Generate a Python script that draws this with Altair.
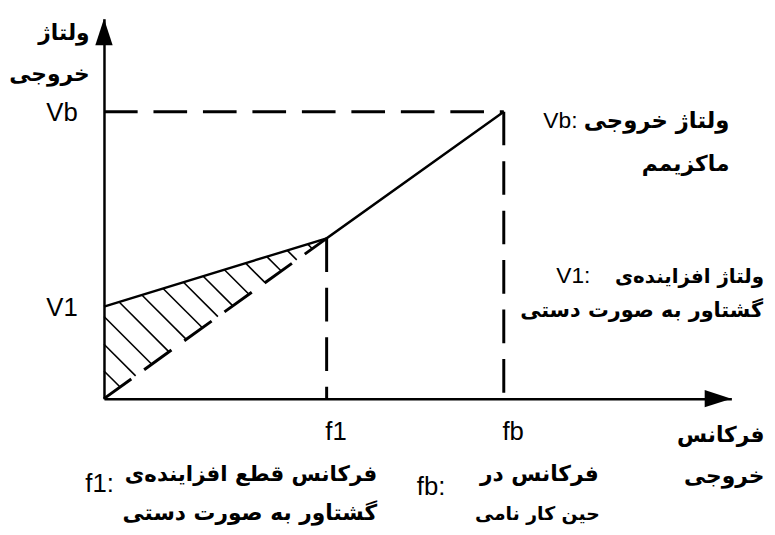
import altair as alt
import pandas as pd

# ---- values (1 unit ~ 1 px of the original) ----
F1 = 225          # f1 position on frequency axis
FB = 404          # fb position
V1 = 93           # boost voltage at f = 0
V_AT_F1 = 162     # voltage at f1
VB = 290          # max output voltage
X_END = 634       # end of frequency axis (arrow tip)
Y_END = 384       # end of voltage axis (arrow tip)

x_tick_values = [F1, FB]
x_tick_labels = ["f1", "fb"]
y_tick_values = [V1, VB]
y_tick_labels = ["V1", "Vb"]

curve_f = [0, F1, FB]
curve_v = [V1, V_AT_F1, VB]

# hatch lines: X + Y = k
hatch_k = [28, 55, 83, 113, 143, 171, 198, 224, 252, 280, 308, 335, 362]

LATIN = "Liberation Sans"
PERSIAN = "DejaVu Sans"

# ---- tables built from the values ----
curve = pd.DataFrame({"f": curve_f, "v": curve_v})

guides = pd.DataFrame({
    "f":  [0,  FB, F1, 0],
    "v":  [VB, VB, V_AT_F1, 0],
    "f2": [FB, FB, F1, F1],
    "v2": [VB, 0,  0,  V_AT_F1],
})

s_up = (V_AT_F1 - V1) / F1
s_lo = V_AT_F1 / F1
rows = []
for k in hatch_k:
    if k <= V1:
        xs, ys = 0.0, float(k)
    else:
        xs = (k - V1) / (1 + s_up)
        ys = V1 + s_up * xs
    xe = k / (1 + s_lo)
    ye = s_lo * xe
    rows.append({"f": xs, "v": ys, "f2": xe, "v2": ye})
hatch = pd.DataFrame(rows)

arrows = pd.DataFrame({
    "f": [X_END, 0],
    "v": [0, Y_END],
    "shape": ["M0,0L-2,-0.65L-2,0.65Z", "M0,0L-0.65,2L0.65,2Z"],
})


def label_expr(values, labels):
    expr = "''"
    for val, lab in zip(values, labels):
        expr = f"datum.value == {val} ? '{lab}' : ({expr})"
    return expr


xscale = alt.Scale(domain=[0, X_END], nice=False, zero=False)
yscale = alt.Scale(domain=[0, Y_END], nice=False, zero=False)

common_axis = dict(
    domain=True, domainColor="black", domainWidth=2.5, ticks=False, tickSize=0,
    grid=False, labelFont=LATIN, labelFontSize=26, labelColor="black",
    labelFlush=False, labelOverlap=False,
    titleFont=PERSIAN, titleFontSize=22, titleFontWeight="bold",
    titleColor="black", titleAngle=0, titleAlign="right",
    titleBaseline="alphabetic", titleLineHeight=42,
)

x_axis = alt.Axis(
    values=x_tick_values, labelExpr=label_expr(x_tick_values, x_tick_labels),
    labelPadding=20, labelOffset=9,
    title=["فرکانس", "خروجی"], titleX=667, titleY=43, **common_axis,
)
y_axis = alt.Axis(
    values=y_tick_values, labelExpr=label_expr(y_tick_values, y_tick_labels),
    labelPadding=27, labelOffset=1,
    title=["ولتاژ", "خروجی"], titleX=-15, titleY=21, **common_axis,
)

X = alt.X("f:Q", scale=xscale, axis=x_axis)
Y = alt.Y("v:Q", scale=yscale, axis=y_axis)

line = alt.Chart(curve).mark_line(color="black", strokeWidth=2.4).encode(x=X, y=Y)

guide_layer = alt.Chart(guides).mark_rule(
    color="black", strokeWidth=3, strokeDash=[34, 16]
).encode(x=X, y=Y, x2="f2:Q", y2="v2:Q")

hatch_layer = alt.Chart(hatch).mark_rule(color="black", strokeWidth=1.6).encode(
    x=X, y=Y, x2="f2:Q", y2="v2:Q"
)

arrow_layer = alt.Chart(arrows).mark_point(
    filled=True, color="black", opacity=1, size=729, strokeWidth=0
).encode(
    x=X, y=Y,
    shape=alt.Shape("shape:N", scale=None, legend=None),
)


def note(text, x, y, font=PERSIAN, size=22, weight="bold", align="right"):
    return alt.Chart(pd.DataFrame({"t": [text]})).mark_text(
        font=font, fontSize=size, fontWeight=weight, color="black",
        align=align, baseline="alphabetic", dir="ltr",
    ).encode(text="t:N", x=alt.value(x), y=alt.value(y))


notes = [
    note("Vb:", 444, 111, font=LATIN, size=23, weight="normal", align="left"),
    note("ولتاژ خروجی", 632, 110, size=23),
    note("ماکزیمم", 632, 154),
    note("V1:", 457, 267, font=LATIN, size=23, weight="normal", align="left"),
    note("ولتاژ افزاینده\u200cی", 667, 267, size=20),
    note("گشتاور به صورت دستی", 666, 302, size=21),
    note("f1:", 10, 478, font=LATIN, size=26, weight="normal"),
    note("فرکانس قطع افزاینده\u200cی", 276, 467, size=21.5),
    note("گشتاور به صورت دستی", 276, 507, size=22),
    note("fb:", 345, 481, font=LATIN, size=26, weight="normal"),
    note("فرکانس در", 500, 467),
    note("حین کار نامی", 501, 507, size=19),
]

chart = alt.layer(
    guide_layer, hatch_layer, line, arrow_layer, *notes
).properties(
    width=X_END, height=Y_END,
    autosize=alt.AutoSizeParams(type="none"),
    padding={"left": 97, "top": 8, "right": 36, "bottom": 132},
    background="white",
).configure_view(stroke=None)

chart.save("out.html", embed_options={"renderer": "svg", "actions": False})
